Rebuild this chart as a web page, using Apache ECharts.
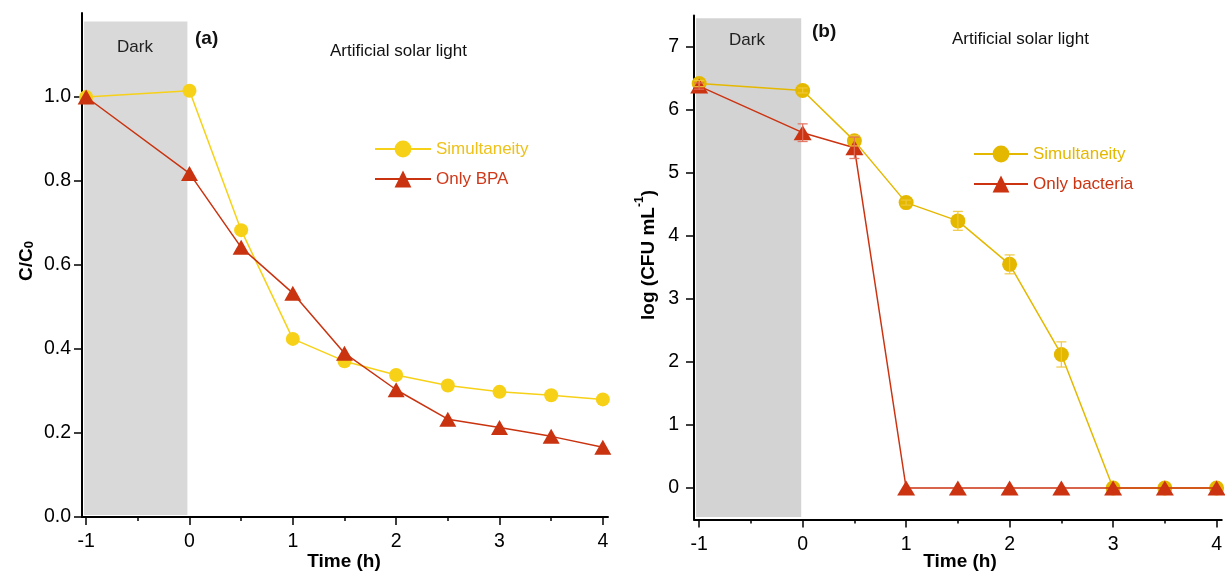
<!DOCTYPE html>
<html>
<head>
<meta charset="utf-8">
<script src="https://cdn.jsdelivr.net/npm/echarts@6/dist/echarts.min.js"></script>
<style>html,body{margin:0;padding:0;background:#fff}#c{width:1225px;height:572px}</style>
</head>
<body>
<div id="c"></div>
<script>
// ---- data ----
const time = [-1, 0, 0.5, 1, 1.5, 2, 2.5, 3, 3.5, 4];
const bpaSimultaneity = [1.0, 1.015, 0.683, 0.424, 0.371, 0.338, 0.313, 0.298, 0.290, 0.280];
const bpaOnly = [1.0, 0.818, 0.642, 0.533, 0.390, 0.303, 0.233, 0.213, 0.192, 0.166];
const bactSimultaneity = [6.42, 6.31, 5.51, 4.53, 4.24, 3.55, 2.12, 0, 0, 0];
const bactSimultaneityErr = [0.05, 0.04, 0.08, 0.04, 0.15, 0.15, 0.20, 0, 0, 0];
const bactOnly = [6.38, 5.64, 5.40, 0, 0, 0, 0, 0, 0, 0];
const bactOnlyErr = [0.05, 0.14, 0.17, 0, 0, 0, 0, 0, 0, 0];
const xMajorTicks = [-1, 0, 1, 2, 3, 4];
const xMinorTicks = [-0.5, 0.5, 1.5, 2.5, 3.5];
const yTicksA = [0, 0.2, 0.4, 0.6, 0.8, 1.0];
const yTicksB = [0, 1, 2, 3, 4, 5, 6, 7];

const FONT = 'Liberation Sans, Arial, Helvetica, sans-serif';
const C_YA = '#f7d117', C_RA = '#c9330f';
const C_YB = '#e5b800', C_RB = '#cc3311';

const pairs = (xs, ys) => xs.map((x, i) => [x, ys[i]]);
const triples = (xs, ys, es) => xs.map((x, i) => [x, ys[i], es[i]]);

function errRender(color) {
  return function (params, api) {
    const x = api.value(0), y = api.value(1), e = api.value(2);
    if (!e) return null;
    const t = api.coord([x, y + e]), b = api.coord([x, y - e]);
    const w = 5;
    const st = { stroke: color, lineWidth: 1.3 };
    return { type: 'group', children: [
      { type: 'line', shape: { x1: t[0], y1: t[1], x2: b[0], y2: b[1] }, style: st },
      { type: 'line', shape: { x1: t[0] - w, y1: t[1], x2: t[0] + w, y2: t[1] }, style: st },
      { type: 'line', shape: { x1: b[0] - w, y1: b[1], x2: b[0] + w, y2: b[1] }, style: st }
    ]};
  };
}

const axisLineStyle = { show: true, lineStyle: { color: '#000', width: 2 } };
const labelStyle = { color: '#000', fontSize: 19.5, fontFamily: FONT };

function xMain(grid, min, max) {
  return { type: 'value', gridIndex: grid, min: min, max: max,
    axisLine: Object.assign({ onZero: false }, axisLineStyle),
    axisTick: { show: true, inside: false, length: 8, lineStyle: { color: '#000', width: 1.5 }, customValues: xMajorTicks },
    axisLabel: Object.assign({ margin: 15, customValues: xMajorTicks, formatter: v => String(v) }, labelStyle),
    splitLine: { show: false } };
}
function xMinor(grid, min, max) {
  return { type: 'value', gridIndex: grid, min: min, max: max, position: 'bottom',
    axisLine: { show: false, onZero: false },
    axisTick: { show: true, inside: false, length: 4, lineStyle: { color: '#000', width: 1.5 }, customValues: xMinorTicks },
    axisLabel: { show: false }, splitLine: { show: false } };
}

const option = {
  animation: false,
  backgroundColor: '#fff',
  grid: [
    { left: 82, top: 13, width: 526, height: 504 },
    { left: 694, top: 15.5, width: 530, height: 504 }
  ],
  xAxis: [
    xMain(0, -1.04, 4.05), xMinor(0, -1.04, 4.05),
    xMain(1, -1.05, 4.05), xMinor(1, -1.05, 4.05)
  ],
  yAxis: [
    { type: 'value', gridIndex: 0, min: 0, max: 1.2,
      axisLine: Object.assign({ onZero: false }, axisLineStyle),
      axisTick: { show: true, length: 8, lineStyle: { color: '#000', width: 1.5 }, customValues: yTicksA },
      axisLabel: Object.assign({ margin: 11, customValues: yTicksA, formatter: v => v.toFixed(1) }, labelStyle),
      splitLine: { show: false } },
    { type: 'value', gridIndex: 1, min: -0.5, max: 7.5,
      axisLine: Object.assign({ onZero: false }, axisLineStyle),
      axisTick: { show: true, length: 8, lineStyle: { color: '#000', width: 1.5 }, customValues: yTicksB },
      axisLabel: Object.assign({ margin: 15, customValues: yTicksB, formatter: v => String(v) }, labelStyle),
      splitLine: { show: false } }
  ],
  legend: [
    { left: 369, top: 134, orient: 'vertical', itemWidth: 56, itemHeight: 21, itemGap: 10,
      textStyle: { fontSize: 17, fontFamily: FONT, lineHeight: 20 },
      data: [ { name: 'Simultaneity', textStyle: { color: '#eec21a' } },
              { name: 'Only BPA', textStyle: { color: '#d0381a' } } ] },
    { left: 968, top: 139, orient: 'vertical', itemWidth: 54, itemHeight: 21, itemGap: 10,
      textStyle: { fontSize: 17, fontFamily: FONT, lineHeight: 20 },
      formatter: n => n.replace(' (b)', ''),
      data: [ { name: 'Simultaneity (b)', textStyle: { color: '#e5b800' } },
              { name: 'Only bacteria', textStyle: { color: '#cc3311' } } ] }
  ],
  series: [
    { type: 'line', xAxisIndex: 0, yAxisIndex: 0, data: [], z: 1, silent: true,
      markArea: { silent: true, itemStyle: { color: '#d9d9d9' },
        data: [[ { coord: [-1.02, 0.005] }, { coord: [-0.02, 1.18] } ]] } },
    { type: 'line', xAxisIndex: 2, yAxisIndex: 1, data: [], z: 1, silent: true,
      markArea: { silent: true, itemStyle: { color: '#d3d3d3' },
        data: [[ { coord: [-1.03, -0.46] }, { coord: [-0.014, 7.455] } ]] } },

    { name: 'Simultaneity', type: 'line', xAxisIndex: 0, yAxisIndex: 0, z: 3,
      data: pairs(time, bpaSimultaneity), symbol: 'circle', symbolSize: 14, showAllSymbol: true,
      lineStyle: { color: C_YA, width: 1.5 }, itemStyle: { color: C_YA } },
    { name: 'Only BPA', type: 'line', xAxisIndex: 0, yAxisIndex: 0, z: 4,
      data: pairs(time, bpaOnly), symbol: 'triangle', symbolSize: [17, 15], showAllSymbol: true,
      lineStyle: { color: C_RA, width: 1.5 }, itemStyle: { color: C_RA } },

    { name: 'Simultaneity (b)', type: 'line', xAxisIndex: 2, yAxisIndex: 1, z: 3,
      data: pairs(time, bactSimultaneity), symbol: 'circle', symbolSize: 15, showAllSymbol: true,
      lineStyle: { color: C_YB, width: 1.5 }, itemStyle: { color: C_YB } },
    { name: 'Only bacteria', type: 'line', xAxisIndex: 2, yAxisIndex: 1, z: 4,
      data: pairs(time, bactOnly), symbol: 'triangle', symbolSize: [18, 15], showAllSymbol: true,
      lineStyle: { color: C_RB, width: 1.5 }, itemStyle: { color: C_RB } },

    { type: 'custom', xAxisIndex: 2, yAxisIndex: 1, z: 5, silent: true,
      encode: { x: 0, y: 1 }, renderItem: errRender('rgba(240,200,60,0.9)'),
      data: triples(time, bactSimultaneity, bactSimultaneityErr) },
    { type: 'custom', xAxisIndex: 2, yAxisIndex: 1, z: 6, silent: true,
      encode: { x: 0, y: 1 }, renderItem: errRender('rgba(225,110,90,0.9)'),
      data: triples(time, bactOnly, bactOnlyErr) }
  ],
  graphic: [
    { type: 'text', z: 100, x: 135, y: 47, style: { text: 'Dark', fontSize: 17, fontFamily: FONT, fill: '#222', align: 'center', verticalAlign: 'middle' } },
    { type: 'text', z: 100, x: 195, y: 39, style: { text: '(a)', fontSize: 19, fontWeight: 'bold', fontFamily: FONT, fill: '#111', align: 'left', verticalAlign: 'middle' } },
    { type: 'text', z: 100, x: 330, y: 51, style: { text: 'Artificial solar light', fontSize: 17, fontFamily: FONT, fill: '#111', align: 'left', verticalAlign: 'middle' } },
    { type: 'text', z: 100, x: 747, y: 40, style: { text: 'Dark', fontSize: 17, fontFamily: FONT, fill: '#222', align: 'center', verticalAlign: 'middle' } },
    { type: 'text', z: 100, x: 812, y: 32, style: { text: '(b)', fontSize: 19, fontWeight: 'bold', fontFamily: FONT, fill: '#111', align: 'left', verticalAlign: 'middle' } },
    { type: 'text', z: 100, x: 952, y: 39, style: { text: 'Artificial solar light', fontSize: 17, fontFamily: FONT, fill: '#111', align: 'left', verticalAlign: 'middle' } },
    { type: 'text', z: 100, x: 344, y: 562, style: { text: 'Time (h)', fontSize: 19, fontWeight: 'bold', fontFamily: FONT, fill: '#000', align: 'center', verticalAlign: 'middle' } },
    { type: 'text', z: 100, x: 960, y: 562, style: { text: 'Time (h)', fontSize: 19, fontWeight: 'bold', fontFamily: FONT, fill: '#000', align: 'center', verticalAlign: 'middle' } },
    { type: 'text', z: 100, x: 24, y: 261, rotation: Math.PI / 2,
      style: { text: '{b|C/C}{s|0}', align: 'center', verticalAlign: 'middle',
        rich: { b: { fontSize: 19, fontWeight: 'bold', fontFamily: FONT, fill: '#000', lineHeight: 24, verticalAlign: 'bottom' },
                s: { fontSize: 13, fontWeight: 'bold', fontFamily: FONT, fill: '#000', lineHeight: 24, verticalAlign: 'bottom' } } } },
    { type: 'text', z: 100, x: 646, y: 255, rotation: Math.PI / 2,
      style: { text: '{b|log (CFU mL}{s|-1}{b|)}', align: 'center', verticalAlign: 'middle',
        rich: { b: { fontSize: 19, fontWeight: 'bold', fontFamily: FONT, fill: '#000', lineHeight: 24, verticalAlign: 'bottom' },
                s: { fontSize: 12, fontWeight: 'bold', fontFamily: FONT, fill: '#000', lineHeight: 24, verticalAlign: 'top' } } } }
  ]
};

const chart = echarts.init(document.getElementById('c'), null, { renderer: 'canvas' });
chart.setOption(option);
</script>
</body>
</html>
